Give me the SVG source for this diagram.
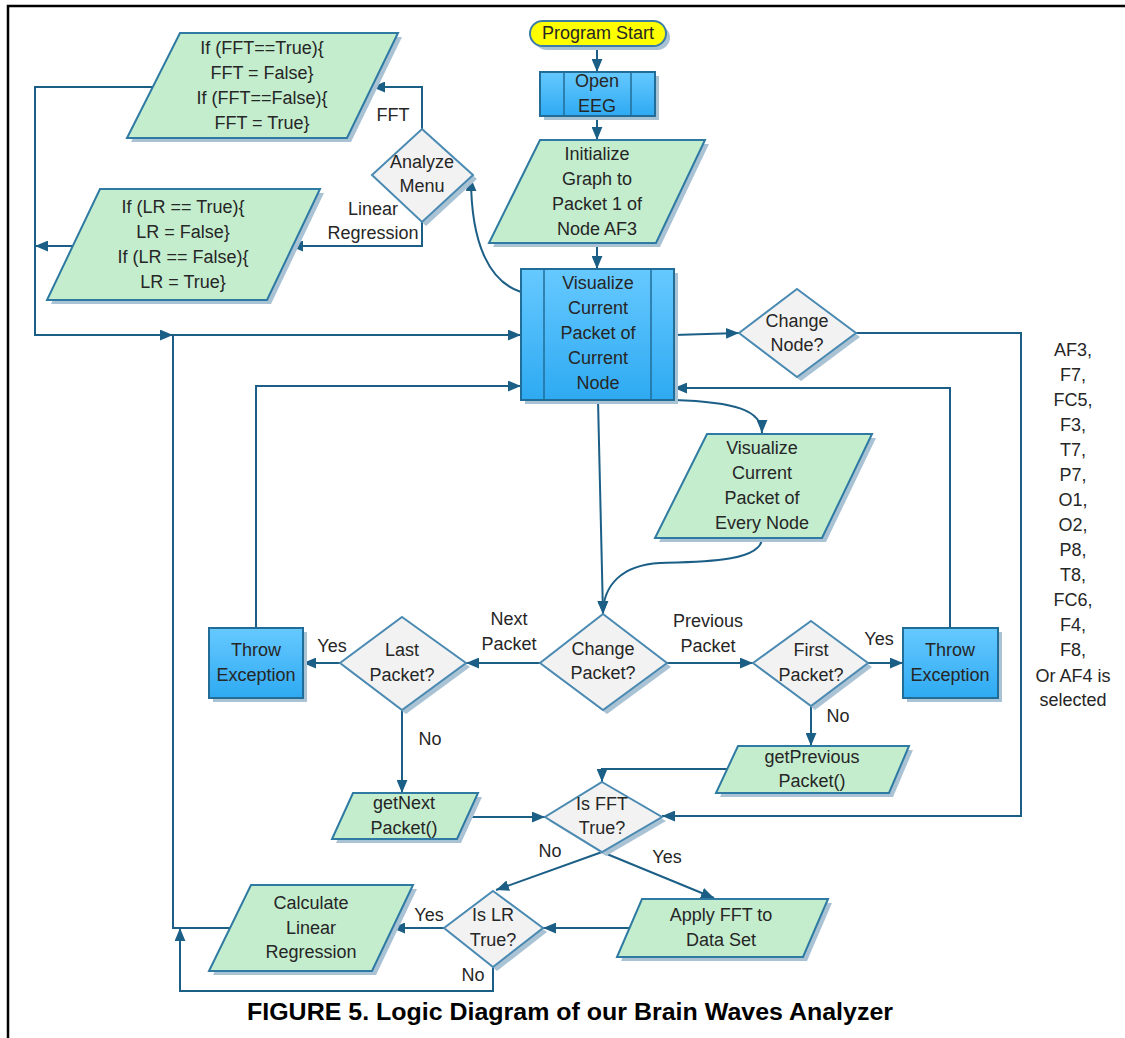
<svg xmlns="http://www.w3.org/2000/svg" width="1125" height="1038" viewBox="0 0 1125 1038">
<defs>
<linearGradient id="blueGrad" x1="0" y1="0" x2="0" y2="1">
<stop offset="0" stop-color="#66c9ff"/>
<stop offset="1" stop-color="#2eaaf2"/>
</linearGradient>
<marker id="arr" viewBox="0 0 12 10" refX="12" refY="5" markerWidth="13" markerHeight="11" markerUnits="userSpaceOnUse" orient="auto">
<path d="M0,0 L12,5 L0,10 z" fill="#1b5f87"/>
</marker>
<style>
.t{font-family:"Liberation Sans",Arial,sans-serif;font-size:18px;fill:#262626;text-anchor:middle;dominant-baseline:central}
.lbl{font-family:"Liberation Sans",Arial,sans-serif;font-size:18px;fill:#262626;text-anchor:middle;dominant-baseline:central}
.sh{fill:#a9c2d4;stroke:none}
.green{fill:#c4edce;stroke:#2f7aa2;stroke-width:2}
.blue{fill:url(#blueGrad);stroke:#226d98;stroke-width:2}
.dia{fill:#f2f2f2;stroke:#4a8ab2;stroke-width:2}
.inner{stroke:#226d98;stroke-width:1.5;fill:none}
.c{fill:none;stroke:#1b5f87;stroke-width:2}
.ca{fill:none;stroke:#1b5f87;stroke-width:2;marker-end:url(#arr)}
.border{stroke:#000;stroke-width:2.5;fill:none}
</style>
</defs>
<rect x="0" y="0" width="1125" height="1038" fill="#ffffff"/>
<path class="border" d="M1125,6 H8 V1038"/>

<g id="connectors">
<path class="ca" d="M597,46 V72"/>
<path class="ca" d="M597,116 V140"/>
<path class="ca" d="M597,243 V269"/>
<path class="ca" d="M674,335 L739,333"/>
<path class="ca" d="M856,333 H1021 V816 H662"/>
<path class="ca" d="M674,400 C735,402 762,410 762,433"/>
<path class="ca" d="M762,538 C762,562 700,562 660,563 C622,565 603,585 603,614"/>
<path class="ca" d="M598,400 L603,614"/>
<path class="ca" d="M540,663 H466"/>
<path class="ca" d="M340,663 H303"/>
<path class="ca" d="M256,628 V386 H521"/>
<path class="ca" d="M667,663 H753"/>
<path class="ca" d="M868,663 H903"/>
<path class="ca" d="M950,628 V388 H674"/>
<path class="ca" d="M811,706 V746"/>
<path class="ca" d="M727,769 H602 V782"/>
<path class="ca" d="M402,710 V793"/>
<path class="ca" d="M467,817 H545"/>
<path class="ca" d="M602,852 L496,890"/>
<path class="ca" d="M602,852 L714,898"/>
<path class="ca" d="M630,928 H543"/>
<path class="ca" d="M444,928 H392"/>
<path class="ca" d="M493,967 V991 H180 V928"/>
<path class="ca" d="M230,928 H173 V335 H521"/>
<path class="ca" d="M153,87 H35 V335 H173"/>
<path class="ca" d="M73,246 H35"/>
<path class="ca" d="M422,129 V87 H372"/>
<path class="ca" d="M422,222 V246 H290"/>
<path class="ca" d="M521,292 C490,282 471,245 471,178"/>
<text class="lbl" x="393" y="115">FFT</text>
<text class="lbl" x="373" y="209">Linear</text>
<text class="lbl" x="373" y="233">Regression</text>
<text class="lbl" x="509" y="619">Next</text>
<text class="lbl" x="509" y="644">Packet</text>
<text class="lbl" x="332" y="646">Yes</text>
<text class="lbl" x="708" y="621">Previous</text>
<text class="lbl" x="708" y="646">Packet</text>
<text class="lbl" x="879" y="639">Yes</text>
<text class="lbl" x="838" y="716">No</text>
<text class="lbl" x="430" y="739">No</text>
<text class="lbl" x="550" y="851">No</text>
<text class="lbl" x="667" y="857">Yes</text>
<text class="lbl" x="429" y="915">Yes</text>
<text class="lbl" x="473" y="975">No</text>
</g>

<g id="program-start">
<rect class="sh" x="534" y="25" width="136" height="25" rx="12.5"/>
<rect x="530" y="21" width="136" height="25" rx="12.5" fill="#ffff00" stroke="#3c7da8" stroke-width="2"/>
<text class="t" x="598" y="33" fill="#000">Program Start</text>
</g>

<g id="open-eeg">
<rect class="sh" x="544" y="76" width="115" height="44"/>
<rect class="blue" x="540" y="72" width="115" height="44"/>
<path class="inner" d="M564,72 V116 M631,72 V116"/>
<text class="t" x="597" y="81">Open</text>
<text class="t" x="597" y="106">EEG</text>
</g>

<g id="initialize">
<polygon class="sh" points="544,144 709,144 660,247 493,247"/>
<polygon class="green" points="540,140 705,140 656,243 489,243"/>
<text class="t" x="597" y="154">Initialize</text>
<text class="t" x="597" y="179">Graph to</text>
<text class="t" x="597" y="204">Packet 1 of</text>
<text class="t" x="597" y="229">Node AF3</text>
</g>

<g id="visualize-current">
<rect class="sh" x="525" y="273" width="153" height="131"/>
<rect class="blue" x="521" y="269" width="153" height="131"/>
<path class="inner" d="M544,269 V400 M651,269 V400"/>
<text class="t" x="598" y="283">Visualize</text>
<text class="t" x="598" y="308">Current</text>
<text class="t" x="598" y="333">Packet of</text>
<text class="t" x="598" y="358">Current</text>
<text class="t" x="598" y="383">Node</text>
</g>

<g id="change-node">
<polygon class="sh" points="801,293 860,337 801,381 743,337"/>
<polygon class="dia" points="797,289 856,333 797,377 739,333"/>
<text class="t" x="797" y="321">Change</text>
<text class="t" x="797" y="345">Node?</text>
</g>

<g id="node-list">
<text class="t" x="1073" y="350">AF3,</text>
<text class="t" x="1073" y="375">F7,</text>
<text class="t" x="1073" y="400">FC5,</text>
<text class="t" x="1073" y="425">F3,</text>
<text class="t" x="1073" y="450">T7,</text>
<text class="t" x="1073" y="475">P7,</text>
<text class="t" x="1073" y="500">O1,</text>
<text class="t" x="1073" y="525">O2,</text>
<text class="t" x="1073" y="550">P8,</text>
<text class="t" x="1073" y="575">T8,</text>
<text class="t" x="1073" y="600">FC6,</text>
<text class="t" x="1073" y="625">F4,</text>
<text class="t" x="1073" y="650">F8,</text>
<text class="t" x="1073" y="676">Or AF4 is</text>
<text class="t" x="1073" y="700">selected</text>
</g>

<g id="fft-toggle">
<polygon class="sh" points="184,37 402,37 351,142 131,142"/>
<polygon class="green" points="180,33 398,33 347,138 127,138"/>
<text class="t" x="262" y="48">If (FFT==True){</text>
<text class="t" x="262" y="73">FFT = False}</text>
<text class="t" x="262" y="98">If (FFT==False){</text>
<text class="t" x="262" y="123">FFT = True}</text>
</g>

<g id="lr-toggle">
<polygon class="sh" points="104,193 324,193 271,304 51,304"/>
<polygon class="green" points="100,189 320,189 267,300 47,300"/>
<text class="t" x="183" y="207">If (LR == True){</text>
<text class="t" x="183" y="232">LR = False}</text>
<text class="t" x="183" y="257">If (LR == False){</text>
<text class="t" x="183" y="282">LR = True}</text>
</g>

<g id="analyze-menu">
<polygon class="sh" points="426,133 477,179 426,226 376,179"/>
<polygon class="dia" points="422,129 473,175 422,222 372,175"/>
<text class="t" x="422" y="162">Analyze</text>
<text class="t" x="422" y="186">Menu</text>
</g>

<g id="visualize-every">
<polygon class="sh" points="711,438 876,438 826,542 659,542"/>
<polygon class="green" points="707,434 872,434 822,538 655,538"/>
<text class="t" x="762" y="448">Visualize</text>
<text class="t" x="762" y="473">Current</text>
<text class="t" x="762" y="498">Packet of</text>
<text class="t" x="762" y="523">Every Node</text>
</g>

<g id="change-packet">
<polygon class="sh" points="607,618 671,667 607,714 544,667"/>
<polygon class="dia" points="603,614 667,663 603,710 540,663"/>
<text class="t" x="603" y="649">Change</text>
<text class="t" x="603" y="673">Packet?</text>
</g>

<g id="last-packet">
<polygon class="sh" points="406,621 470,667 406,714 344,667"/>
<polygon class="dia" points="402,617 466,663 402,710 340,663"/>
<text class="t" x="402" y="650">Last</text>
<text class="t" x="402" y="675">Packet?</text>
</g>

<g id="throw-left">
<rect class="sh" x="213" y="632" width="94" height="70"/>
<rect class="blue" x="209" y="628" width="94" height="70"/>
<text class="t" x="256" y="650">Throw</text>
<text class="t" x="256" y="675">Exception</text>
</g>

<g id="first-packet">
<polygon class="sh" points="815,625 872,667 815,710 757,667"/>
<polygon class="dia" points="811,621 868,663 811,706 753,663"/>
<text class="t" x="811" y="650">First</text>
<text class="t" x="811" y="675">Packet?</text>
</g>

<g id="throw-right">
<rect class="sh" x="907" y="632" width="95" height="70"/>
<rect class="blue" x="903" y="628" width="95" height="70"/>
<text class="t" x="950" y="650">Throw</text>
<text class="t" x="950" y="675">Exception</text>
</g>

<g id="get-previous">
<polygon class="sh" points="742,750 913,750 893,797 720,797"/>
<polygon class="green" points="738,746 909,746 889,793 716,793"/>
<text class="t" x="812" y="757">getPrevious</text>
<text class="t" x="812" y="781">Packet()</text>
</g>

<g id="get-next">
<polygon class="sh" points="357,797 482,797 461,843 336,843"/>
<polygon class="green" points="353,793 478,793 457,839 332,839"/>
<text class="t" x="404" y="803">getNext</text>
<text class="t" x="404" y="828">Packet()</text>
</g>

<g id="is-fft">
<polygon class="sh" points="606,786 666,821 606,856 549,821"/>
<polygon class="dia" points="602,782 662,817 602,852 545,817"/>
<text class="t" x="602" y="804">Is FFT</text>
<text class="t" x="602" y="828">True?</text>
</g>

<g id="apply-fft">
<polygon class="sh" points="646,903 832,903 807,961 621,961"/>
<polygon class="green" points="642,899 828,899 803,957 617,957"/>
<text class="t" x="721" y="915">Apply FFT to</text>
<text class="t" x="721" y="940">Data Set</text>
</g>

<g id="is-lr">
<polygon class="sh" points="497,895 547,932 497,971 448,932"/>
<polygon class="dia" points="493,891 543,928 493,967 444,928"/>
<text class="t" x="493" y="915">Is LR</text>
<text class="t" x="493" y="940">True?</text>
</g>

<g id="calc-lr">
<polygon class="sh" points="255,889 417,889 376,975 213,975"/>
<polygon class="green" points="251,885 413,885 372,971 209,971"/>
<text class="t" x="311" y="903">Calculate</text>
<text class="t" x="311" y="928">Linear</text>
<text class="t" x="311" y="952">Regression</text>
</g>

<g id="caption">
<text x="570" y="1012" font-family="'Liberation Sans',Arial,sans-serif" font-weight="bold" font-size="23" fill="#000" text-anchor="middle" dominant-baseline="central" textLength="646" lengthAdjust="spacingAndGlyphs">FIGURE 5. Logic Diagram of our Brain Waves Analyzer</text>
</g>
</svg>
